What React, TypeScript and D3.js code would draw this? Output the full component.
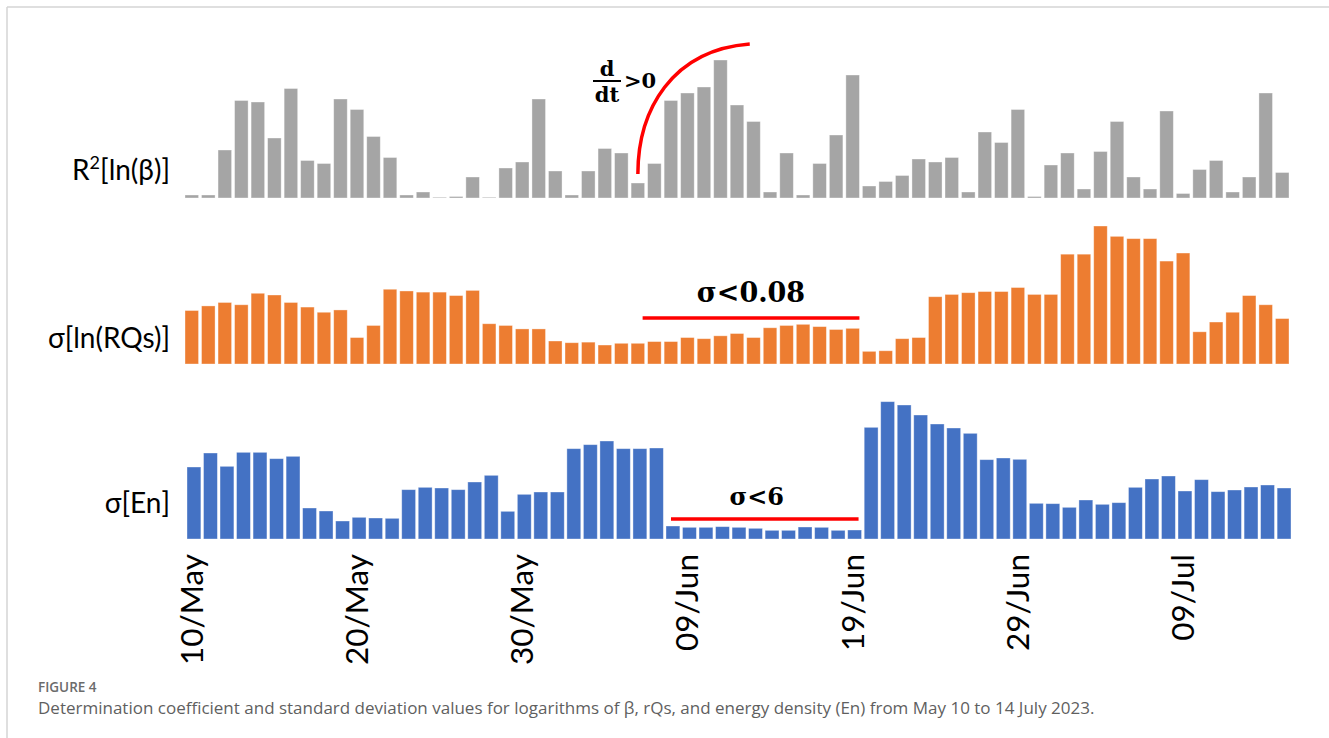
import React from 'react'
import * as d3 from 'd3'

// one bar per day, 10 May .. 15 Jul 2023
const firstDay = new Date(2023, 4, 10)
const lastDay = new Date(2023, 6, 15)

const tickLabels = ['10/May', '20/May', '30/May', '09/Jun', '19/Jun', '29/Jun', '09/Jul']

// R2 of ln(beta)
const r2LnBeta = [
  0.02, 0.02, 0.32, 0.65, 0.64, 0.40, 0.73, 0.25, 0.23, 0.66,
  0.59, 0.41, 0.27, 0.02, 0.04, 0.005, 0.01, 0.14, 0.005, 0.20,
  0.24, 0.66, 0.18, 0.02, 0.18, 0.33, 0.30, 0.10, 0.23, 0.65,
  0.70, 0.74, 0.92, 0.62, 0.51, 0.04, 0.30, 0.02, 0.23, 0.42,
  0.82, 0.08, 0.11, 0.15, 0.26, 0.24, 0.27, 0.04, 0.44, 0.37,
  0.59, 0.01, 0.22, 0.30, 0.06, 0.31, 0.51, 0.14, 0.06, 0.58,
  0.03, 0.19, 0.25, 0.04, 0.14, 0.70, 0.17,
]

// sigma of ln(RQs)
const sigmaLnRQs = [
  0.093, 0.101, 0.107, 0.103, 0.123, 0.120, 0.107, 0.099, 0.090, 0.094,
  0.046, 0.067, 0.130, 0.127, 0.125, 0.125, 0.119, 0.128, 0.070, 0.067,
  0.061, 0.061, 0.040, 0.037, 0.038, 0.033, 0.036, 0.036, 0.039, 0.039,
  0.046, 0.044, 0.049, 0.053, 0.046, 0.063, 0.067, 0.069, 0.065, 0.060,
  0.062, 0.022, 0.023, 0.044, 0.046, 0.117, 0.121, 0.124, 0.126, 0.126,
  0.133, 0.121, 0.121, 0.191, 0.191, 0.240, 0.222, 0.218, 0.218, 0.179,
  0.193, 0.056, 0.073, 0.090, 0.119, 0.103, 0.079,
]

// sigma of energy density
const sigmaEn = [
  21.6, 25.8, 21.8, 26.0, 26.0, 24.1, 24.8, 9.3, 8.4, 5.4,
  6.5, 6.3, 6.2, 14.8, 15.5, 15.3, 14.8, 17.1, 19.1, 8.3,
  13.4, 14.1, 14.1, 27.1, 28.3, 29.4, 27.1, 27.1, 27.3, 3.9,
  3.5, 3.5, 3.7, 3.5, 3.2, 2.6, 2.6, 3.6, 3.5, 2.6,
  2.7, 33.5, 41.2, 40.2, 37.2, 34.5, 33.3, 31.7, 23.8, 24.3,
  23.9, 10.7, 10.6, 9.5, 11.7, 10.4, 10.9, 15.5, 18.0, 18.9,
  14.4, 17.8, 14.2, 14.7, 15.6, 16.2, 15.3,
]

// thresholds marked in red
const rqsLimit = 0.08
const enLimit = 6

const W = 1329
const H = 738
const labelFont = 'Lato, "Open Sans", sans-serif'
const noteFont = '"DejaVu Serif", serif'

const fmt = d3.timeFormat('%d/%b')
const days = d3.timeDay.range(firstDay, d3.timeDay.offset(lastDay, 1)).map(fmt)

const xTop = d3.scaleBand<string>().domain(days).range([185, 1289]).paddingInner(0.18)
const xBottom = d3.scaleBand<string>().domain(days).range([187, 1291]).paddingInner(0.16)

const yR2 = d3.scaleLinear().domain([0, 1]).range([198, 48])
const yRQs = d3.scaleLinear().domain([0, 0.25]).range([364, 220.25])
const yEn = d3.scaleLinear().domain([0, 45]).range([539, 389])

const panels = [
  { key: 'r2', values: r2LnBeta, y: yR2, x: xTop, color: '#a5a5a5' },
  { key: 'rqs', values: sigmaLnRQs, y: yRQs, x: xTop, color: '#ed7d31' },
  { key: 'en', values: sigmaEn, y: yEn, x: xBottom, color: '#4472c4' },
]

function Bars({ values, x, y, color }) {
  return (
    <g>
      {values.map((v, i) => (
        <rect
          key={i}
          x={x(days[i])}
          y={y(v)}
          width={x.bandwidth()}
          height={y(0) - y(v)}
          fill={color}
          stroke="#ffffff"
          strokeOpacity={0.45}
          strokeWidth={0.8}
        />
      ))}
    </g>
  )
}

export default function App() {
  // rising curve over the grey bars, from the low day before the peak
  const x0 = xTop(days[27]) + xTop.bandwidth() / 2
  const y0 = yR2(r2LnBeta[27]) - 9
  const x1 = xTop(days[34]) + 3
  const y1 = 44
  const arc = d3.path()
  arc.moveTo(x0, y0)
  arc.bezierCurveTo(x0, 110, x0 + 34, 50, x1, y1)

  const rqsX0 = xTop(days[28]) - 5
  const rqsX1 = xTop(days[40]) + xTop.bandwidth()
  const enX0 = xBottom(days[29]) + 5
  const enX1 = xBottom(days[40]) + xBottom.bandwidth() - 3

  return (
    <svg
      width={W}
      height={H}
      style={{ position: 'absolute', left: 0, top: 0, background: '#fff' }}
    >
      <line x1={7} y1={7} x2={W} y2={7} stroke="#d4d4d4" strokeWidth={1.5} />
      <line x1={7} y1={7} x2={7} y2={H} stroke="#d4d4d4" strokeWidth={1.5} />

      {panels.map(p => (
        <Bars key={p.key} values={p.values} x={p.x} y={p.y} color={p.color} />
      ))}

      <g fontFamily={labelFont} fontSize={28} fill="#000" textAnchor="end">
        <text x={170} y={180}>
          R<tspan fontSize={18} dy={-11}>2</tspan>
          <tspan dy={11}>[ln(β)]</tspan>
        </text>
        <text x={170} y={348}>σ[ln(RQs)]</text>
        <text x={170} y={513}>σ[En]</text>
      </g>

      <g fontFamily={labelFont} fontSize={31.5} fill="#000">
        {tickLabels.map(t => {
          const cx = xBottom(t) + xBottom.bandwidth() / 2 - 2
          return (
            <text
              key={t}
              transform={`translate(${cx},554) rotate(-90)`}
              textAnchor="end"
              dy="0.35em"
            >
              {t}
            </text>
          )
        })}
      </g>

      <path d={arc.toString()} fill="none" stroke="#ff0000" strokeWidth={3.5} />
      <line x1={593} y1={81} x2={621} y2={81} stroke="#000" strokeWidth={2} />
      <g fontFamily={noteFont} fontWeight="bold" fill="#000">
        <text x={607} y={76} fontSize={21} textAnchor="middle">d</text>
        <text x={607} y={102} fontSize={21} textAnchor="middle">dt</text>
        <text x={624} y={88} fontSize={21}>&gt;0</text>
      </g>

      <line
        x1={rqsX0}
        x2={rqsX1}
        y1={yRQs(rqsLimit)}
        y2={yRQs(rqsLimit)}
        stroke="#ff0000"
        strokeWidth={3.5}
      />
      <text
        x={(rqsX0 + rqsX1) / 2}
        y={yRQs(rqsLimit) - 16}
        fontFamily={noteFont}
        fontWeight="bold"
        fontSize={27}
        textAnchor="middle"
      >
        σ&lt;0.08
      </text>

      <line
        x1={enX0}
        x2={enX1}
        y1={yEn(enLimit)}
        y2={yEn(enLimit)}
        stroke="#ff0000"
        strokeWidth={3.5}
      />
      <text
        x={(enX0 + enX1) / 2 - 8}
        y={yEn(enLimit) - 14}
        fontFamily={noteFont}
        fontWeight="bold"
        fontSize={24}
        textAnchor="middle"
      >
        σ&lt;6
      </text>

      <text x={38} y={692} fontFamily='"Open Sans", sans-serif' fontWeight={600} fontSize={13.5} fill="#6b6b6b">
        FIGURE 4
      </text>
      <text x={38} y={714} fontFamily='"Open Sans", sans-serif' fontSize={17} fill="#5f5f5f">
        Determination coefficient and standard deviation values for logarithms of β, rQs, and energy density (En) from May 10 to 14 July 2023.
      </text>
    </svg>
  )
}
